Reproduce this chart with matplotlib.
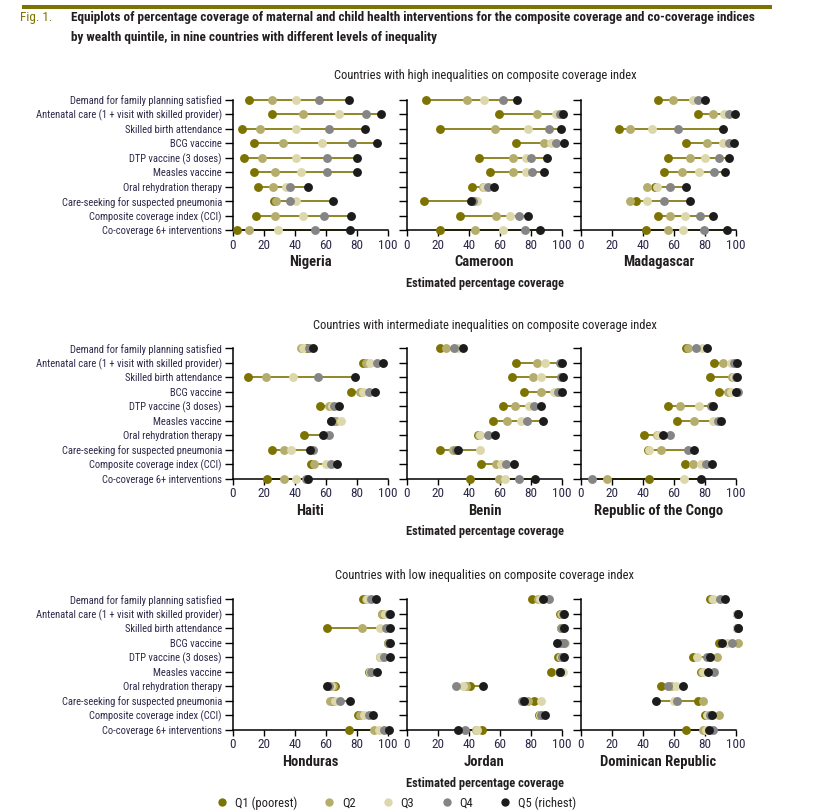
import matplotlib.pyplot as plt
from matplotlib import font_manager as fm
from matplotlib.lines import Line2D

# Buscar una fuente estrecha (la figura original usa una tipografía condensada)
narrow_stretch = ('condensed', 'semi-condensed', 'extra-condensed', 'ultra-condensed')
prefer = ['Liberation Sans Narrow', 'Roboto Condensed', 'Open Sans Condensed',
          'Noto Sans Condensed', 'DejaVu Sans Condensed', 'Noto Sans', 'DejaVu Sans',
          'Roboto', 'Open Sans']
found = []
for f in fm.fontManager.ttflist:
    if f.style != 'normal':
        continue
    st = str(f.stretch)
    if 'Narrow' in f.name or 'Condensed' in f.name or st in narrow_stretch:
        if 'Extra' in f.name or 'extra' in st or 'ultra' in st:
            continue
        found.append((f.name, st))
chosen = None
for p in prefer:
    for name, st in found:
        if name == p:
            chosen = (name, st)
            break
    if chosen:
        break
if chosen is None and found:
    chosen = found[0]

if chosen:
    plt.rcParams['font.family'] = [chosen[0], 'DejaVu Sans']
    plt.rcParams['font.stretch'] = chosen[1] if chosen[1] in narrow_stretch else 'normal'
    scale = 1.0
else:
    plt.rcParams['font.family'] = ['DejaVu Sans']
    scale = 0.68

# Indicadores (filas de cada panel, de arriba a abajo)
indicators = [
    'Demand for family planning satisfied',
    'Antenatal care (1 + visit with skilled provider)',
    'Skilled birth attendance',
    'BCG vaccine',
    'DTP vaccine (3 doses)',
    'Measles vaccine',
    'Oral rehydration therapy',
    'Care-seeking for suspected pneumonia',
    'Composite coverage index (CCI)',
    'Co-coverage 6+ interventions',
]
quintiles = ['Q1 (poorest)', 'Q2', 'Q3', 'Q4', 'Q5 (richest)']
q_colors = ['#7d7300', '#b5ad6b', '#ddd8ab', '#858585', '#1c1c1c']
line_color = '#7d7300'
label_color = '#2d2a4a'
xticks = [0, 20, 40, 60, 80, 100]

# Valores por quintil [Q1, Q2, Q3, Q4, Q5] para cada indicador
nigeria = [
    [10.4, 25.4, 40.5, 55.3, 75.0],
    [25.4, 45.3, 68.7, 86.1, 95.2],
    [5.9, 17.6, 40.5, 62.0, 85.4],
    [13.7, 32.1, 57.7, 77.0, 93.0],
    [6.9, 18.4, 40.5, 60.7, 80.0],
    [13.7, 27.3, 44.0, 60.7, 80.0],
    [16.0, 26.0, 34.0, 37.0, 48.1],
    [26.2, 27.8, 40.8, 36.9, 64.6],
    [15.0, 27.3, 45.3, 58.5, 76.3],
    [2.4, 10.4, 29.3, 52.9, 75.7],
]
cameroon = [
    [12.5, 38.9, 49.9, 61.7, 71.2],
    [59.1, 83.9, 96.3, 98.5, 100.5],
    [21.5, 57.0, 77.8, 91.4, 99.6],
    [70.1, 88.6, 93.0, 96.1, 101.5],
    [46.5, 68.6, 77.0, 80.0, 90.5],
    [53.3, 68.6, 76.8, 80.9, 88.4],
    [41.9, 48.8, 49.7, 52.3, 55.9],
    [11.0, 43.7, 45.2, 42.6, 41.3],
    [34.0, 57.4, 66.7, 72.3, 77.8],
    [21.5, 43.9, 62.2, 76.1, 85.6],
]
madagascar = [
    [49.6, 59.6, 72.4, 75.6, 80.1],
    [75.6, 85.3, 92.1, 95.7, 99.1],
    [24.4, 31.4, 45.5, 62.6, 91.9],
    [67.9, 81.6, 91.9, 95.5, 98.9],
    [56.4, 70.3, 80.3, 88.9, 95.5],
    [53.8, 65.0, 76.3, 85.9, 92.9],
    [47.5, 42.3, 48.9, 57.7, 67.9],
    [35.3, 31.8, 42.7, 53.8, 70.5],
    [50.0, 57.3, 67.1, 76.5, 85.0],
    [41.7, 56.0, 65.6, 79.1, 94.4],
]
haiti = [
    [47.7, 43.8, 45.0, 49.0, 51.5],
    [83.9, 86.0, 88.6, 92.9, 96.8],
    [9.5, 21.1, 39.0, 54.6, 78.9],
    [76.3, 81.7, 83.9, 87.5, 91.4],
    [56.0, 62.0, 64.0, 65.3, 68.6],
    [66.0, 66.2, 69.6, 63.5, 63.2],
    [45.5, 59.0, 60.0, 61.9, 57.8],
    [25.0, 32.8, 37.1, 51.3, 49.8],
    [50.2, 52.0, 59.7, 63.4, 67.1],
    [22.2, 33.0, 40.5, 47.0, 48.5],
]
benin = [
    [21.5, 25.4, 33.0, 30.1, 35.9],
    [70.5, 84.1, 88.8, 98.5, 100.0],
    [67.5, 81.3, 86.5, 99.5, 100.8],
    [75.5, 86.7, 95.0, 97.4, 100.0],
    [61.7, 69.7, 78.5, 81.9, 86.7],
    [55.7, 64.5, 73.8, 77.4, 87.5],
    [45.8, 46.5, 47.3, 52.5, 57.0],
    [21.5, 29.7, 46.9, 31.4, 32.9],
    [47.5, 57.2, 60.6, 64.1, 68.8],
    [40.9, 59.1, 63.4, 72.3, 82.6],
]
congo = [
    [68.0, 69.0, 77.8, 73.9, 81.2],
    [85.9, 91.5, 96.8, 98.9, 100.5],
    [83.5, 97.4, 99.0, 100.0, 100.8],
    [89.3, 94.9, 97.0, 101.0, 100.2],
    [56.4, 64.1, 76.1, 84.0, 85.0],
    [61.8, 73.1, 85.0, 88.5, 90.6],
    [40.6, 49.0, 50.0, 57.3, 53.2],
    [43.5, 51.3, 44.0, 68.8, 72.9],
    [67.1, 72.2, 77.4, 80.8, 84.8],
    [44.0, 16.5, 66.2, 7.3, 77.4],
]
honduras = [
    [83.9, 85.5, 86.7, 89.2, 92.5],
    [96.0, 96.3, 98.0, 100.4, 101.5],
    [60.9, 83.4, 94.6, 98.9, 101.0],
    [100.0, 100.2, 100.5, 100.8, 101.2],
    [95.0, 95.2, 94.6, 97.4, 101.0],
    [88.0, 88.3, 88.6, 88.8, 92.9],
    [66.0, 64.5, 63.5, 62.0, 60.5],
    [64.8, 62.7, 65.7, 69.2, 75.2],
    [80.4, 81.7, 84.3, 87.5, 90.1],
    [74.6, 90.8, 94.0, 97.2, 100.4],
]
jordan = [
    [80.6, 84.5, 86.0, 91.6, 88.0],
    [98.9, 99.5, 100.0, 100.6, 101.5],
    [99.5, 99.6, 99.8, 100.2, 101.5],
    [99.5, 100.0, 102.0, 101.2, 97.0],
    [97.4, 99.0, 99.5, 100.0, 101.5],
    [92.7, 98.0, 100.4, 98.5, 98.7],
    [40.4, 38.0, 35.9, 31.8, 49.0],
    [81.7, 78.0, 86.2, 74.5, 75.5],
    [84.9, 85.5, 86.0, 86.7, 89.0],
    [48.6, 44.3, 45.0, 37.2, 32.9],
]
dominican = [
    [83.5, 84.5, 85.0, 89.5, 93.2],
    [100.5, 100.6, 100.8, 101.0, 101.2],
    [100.5, 100.6, 100.8, 101.0, 101.0],
    [88.9, 101.3, 94.0, 97.4, 90.8],
    [72.2, 87.6, 75.0, 81.2, 83.1],
    [77.4, 78.0, 79.0, 86.1, 82.0],
    [51.7, 58.0, 61.1, 56.4, 65.6],
    [75.6, 78.6, 60.0, 62.2, 48.7],
    [80.0, 88.9, 81.2, 83.5, 84.2],
    [67.5, 78.8, 80.5, 85.0, 82.5],
]

groups = [
    ('Countries with high inequalities on composite coverage index',
     ['Nigeria', 'Cameroon', 'Madagascar'], [nigeria, cameroon, madagascar]),
    ('Countries with intermediate inequalities on composite coverage index',
     ['Haiti', 'Benin', 'Republic of the Congo'], [haiti, benin, congo]),
    ('Countries with low inequalities on composite coverage index',
     ['Honduras', 'Jordan', 'Dominican Republic'], [honduras, jordan, dominican]),
]

W, H = 820, 811
fig = plt.figure(figsize=(W / 100, H / 100), dpi=100)


def fx(px):
    return px / W


def fy(py):
    return 1 - py / H


# Cabecera
fig.add_artist(plt.Rectangle((fx(22), fy(9)), fx(772) - fx(22), 4 / H,
                             transform=fig.transFigure, color='#7d7300', lw=0))
fig.text(fx(20), fy(18), 'Fig. 1.', fontsize=9.5 * scale, color='#7d7300', va='center', ha='left')
fig.text(fx(71), fy(18), 'Equiplots of percentage coverage of maternal and child health interventions '
         'for the composite coverage and co-coverage indices',
         fontsize=9.5 * scale, fontweight='bold', color='#231f20', va='center', ha='left')
fig.text(fx(71), fy(37), 'by wealth quintile, in nine countries with different levels of inequality',
         fontsize=9.5 * scale, fontweight='bold', color='#231f20', va='center', ha='left')

col_left = [233, 407, 581]
col_width = 155
row_top = [99.7, 348.3, 599.3]
row_height = 130.5
section_y = [75, 325, 575]
country_y = [262, 511, 762]
xlabel_y = [283, 532, 784]

for r, (title, names, datasets) in enumerate(groups):
    fig.text(fx(485), fy(section_y[r]), title, fontsize=9 * scale, color='#231f20',
             ha='center', va='center')
    for c in range(3):
        data = datasets[c]
        ax = fig.add_axes([fx(col_left[c]), fy(row_top[r] + row_height),
                           col_width / W, row_height / H])
        for i, vals in enumerate(data):
            ax.plot([min(vals), max(vals)], [i, i], color=line_color, lw=1.2,
                    zorder=2, clip_on=False, solid_capstyle='butt')
            for q in range(5):
                ax.plot(vals[q], i, 'o', color=q_colors[q], markersize=6.4,
                        markeredgewidth=0, zorder=3 + q, clip_on=False)
        ax.set_xlim(0, 100)
        ax.set_ylim(9, 0)
        ax.set_xticks(xticks)
        ax.set_yticks(range(len(indicators)))
        if c == 0:
            ax.set_yticklabels(indicators)
        else:
            ax.set_yticklabels([])
        ax.tick_params(axis='y', length=6, width=1, labelsize=7.6 * scale,
                       labelcolor=label_color, pad=2)
        ax.tick_params(axis='x', length=4, width=1, labelsize=9.5 * scale,
                       labelcolor=label_color, pad=2)
        for s in ['top', 'right']:
            ax.spines[s].set_visible(False)
        for s in ['left', 'bottom']:
            ax.spines[s].set_linewidth(1.1)
        fig.text(fx(col_left[c] + col_width / 2), fy(country_y[r]), names[c],
                 fontsize=10.5 * scale, fontweight='bold', color='#231f20',
                 ha='center', va='center')
    fig.text(fx(485), fy(xlabel_y[r]), 'Estimated percentage coverage',
             fontsize=9 * scale, fontweight='bold', color='#231f20', ha='center', va='center')

# Leyenda
handles = [Line2D([], [], marker='o', ls='', color=q_colors[q], markersize=6,
                  markeredgewidth=0) for q in range(5)]
fig.legend(handles, quintiles, loc='center', bbox_to_anchor=(fx(396), fy(803)),
           ncol=5, frameon=False, fontsize=9 * scale, handletextpad=0.5,
           columnspacing=2.1, handlelength=1.0, labelcolor='#231f20')

fig.savefig('out.png', dpi=100)
